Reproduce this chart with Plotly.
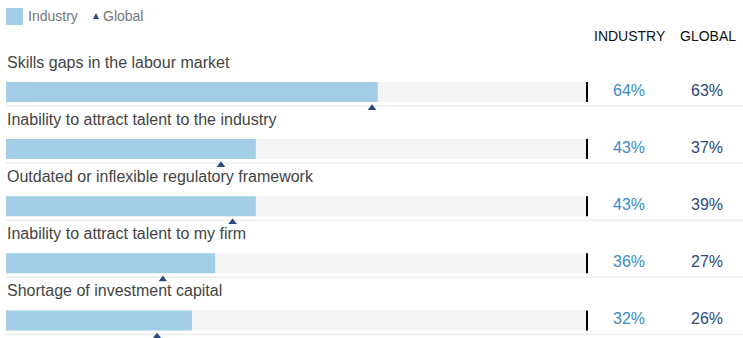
import plotly.graph_objects as go

categories = [
    "Skills gaps in the labour market",
    "Inability to attract talent to the industry",
    "Outdated or inflexible regulatory framework",
    "Inability to attract talent to my firm",
    "Shortage of investment capital",
]
industry = [64, 43, 43, 36, 32]
global_vals = [63, 37, 39, 27, 26]
track_max = 100
col_headers = ["INDUSTRY", "GLOBAL"]

W, H = 743, 338
FONT = "Liberation Sans, Arial, Helvetica, sans-serif"
BAR_COL = "#a2cee6"
TRACK_COL = "#f4f4f4"
IND_TXT = "#3a8cc6"
GLB_COL = "#2b4a7b"
LABEL_COL = "#444444"

# pixel mapping helpers
x0_px, x100_px = 6, 587
row0_px, row_step = 92, 57.1
def xval(px):
    return (px - x0_px) / (x100_px - x0_px) * 100
def yval(px):
    return (px - row0_px) / row_step

n = len(categories)
rows = list(range(n))
bar_w = 20 / row_step

fig = go.Figure()
fig.add_trace(go.Bar(
    y=rows, x=[track_max] * n, orientation="h", width=bar_w,
    marker=dict(color=TRACK_COL, line=dict(width=0)), hoverinfo="skip", showlegend=False,
))
fig.add_trace(go.Bar(
    y=rows, x=industry, orientation="h", width=bar_w, name="Industry",
    marker=dict(color=BAR_COL, line=dict(width=0)), showlegend=False,
))
tri_off = 16 / row_step
fig.add_trace(go.Scatter(
    x=global_vals, y=[r + tri_off for r in rows], mode="markers", name="Global",
    marker=dict(symbol="triangle-up", size=7.5, color=GLB_COL), showlegend=False,
))

shapes = []
annotations = []
sep_off = 14 / row_step
pct_off = -2 / row_step
for i, (cat, iv, gv) in enumerate(zip(categories, industry, global_vals)):
    shapes.append(dict(type="line", xref="paper", yref="y", x0=x0_px / W, x1=1,
                       y0=i + sep_off, y1=i + sep_off, line=dict(color="#ededed", width=1.5),
                       layer="below"))
    shapes.append(dict(type="line", xref="x", yref="y", x0=track_max, x1=track_max,
                       y0=i - bar_w / 2, y1=i + bar_w / 2, line=dict(color="black", width=2)))
    annotations.append(dict(text=cat, xref="paper", yref="y", x=x0_px / W - 0.0015,
                            y=i - 30 / row_step, xanchor="left", yanchor="middle",
                            showarrow=False, font=dict(family=FONT, size=16, color=LABEL_COL)))
    annotations.append(dict(text=f"{iv}%", xref="paper", yref="y", x=629 / W, y=i + pct_off,
                            xanchor="center", yanchor="middle", showarrow=False,
                            font=dict(family=FONT, size=16, color=IND_TXT)))
    annotations.append(dict(text=f"{gv}%", xref="paper", yref="y", x=707 / W, y=i + pct_off,
                            xanchor="center", yanchor="middle", showarrow=False,
                            font=dict(family=FONT, size=16, color=GLB_COL)))

for txt, px in zip(col_headers, [630, 708]):
    annotations.append(dict(text=txt, xref="paper", yref="paper", x=px / W, y=1 - 36 / H,
                            xanchor="center", yanchor="middle", showarrow=False,
                            font=dict(family=FONT, size=14, color="#111111")))

# legend
shapes.append(dict(type="rect", xref="paper", yref="paper", x0=6 / W, x1=23 / W,
                   y0=1 - 25 / H, y1=1 - 8 / H, fillcolor=BAR_COL, line=dict(width=0)))
annotations.append(dict(text="Industry", xref="paper", yref="paper", x=26 / W, y=1 - 16.5 / H,
                        xanchor="left", yanchor="middle", showarrow=False,
                        font=dict(family=FONT, size=14, color="#777777")))
shapes.append(dict(type="path", xref="paper", yref="paper",
                   path=f"M {93/W},{1-19/H} L {99/W},{1-19/H} L {96/W},{1-13/H} Z",
                   fillcolor=GLB_COL, line=dict(width=0)))
annotations.append(dict(text="Global", xref="paper", yref="paper", x=101 / W, y=1 - 16.5 / H,
                        xanchor="left", yanchor="middle", showarrow=False,
                        font=dict(family=FONT, size=14, color="#777777")))

fig.update_layout(
    width=W, height=H, margin=dict(l=0, r=0, t=0, b=0),
    paper_bgcolor="white", plot_bgcolor="white", barmode="overlay",
    xaxis=dict(range=[xval(0), xval(W)], visible=False, fixedrange=True),
    yaxis=dict(range=[yval(H), yval(0)], visible=False, fixedrange=True),
    shapes=shapes, annotations=annotations, showlegend=False,
)
fig.write_html("out.html", config={"displayModeBar": False},
               post_script="document.body.style.margin='0';document.body.style.overflow='hidden';")
